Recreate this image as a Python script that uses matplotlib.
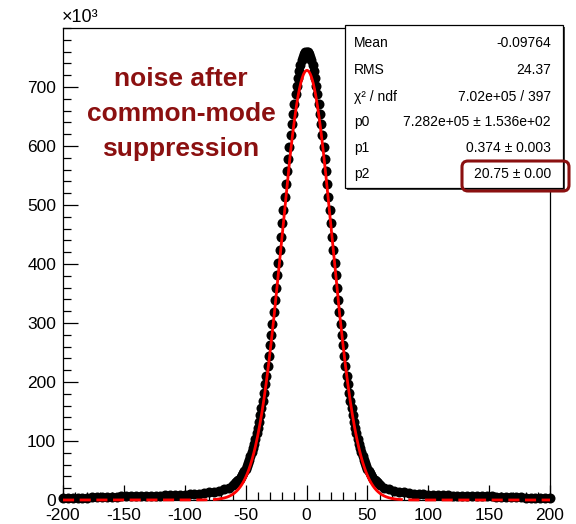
import numpy as np
import matplotlib.pyplot as plt
from matplotlib.patches import Rectangle, FancyBboxPatch

plt.rcParams['font.family'] = ['Liberation Sans', 'DejaVu Sans']
plt.rcParams['axes.unicode_minus'] = False

# histogram contents (thousands of entries), bin width 1 in the core
core_x = np.arange(-60, 61)
core_counts = [26, 28, 30, 32, 34, 36, 39, 42, 45, 49,
               53, 58, 63, 68, 74, 81, 88, 95, 104, 113,
               122, 133, 144, 156, 168, 182, 196, 211, 227, 244,
               262, 280, 299, 318, 339, 359, 381, 402, 424, 446,
               469, 491, 513, 535, 557, 578, 598, 618, 637, 655,
               672, 688, 702, 715, 727, 737, 745, 751, 756, 759,
               760,
               759, 756, 751, 745, 737, 727, 715, 702, 688, 672,
               655, 637, 618, 598, 578, 557, 535, 513, 491, 469,
               446, 424, 402, 381, 359, 339, 318, 299, 280, 262,
               244, 227, 211, 196, 182, 168, 156, 144, 133, 122,
               113, 104, 95, 88, 81, 74, 68, 63, 58, 53,
               49, 45, 42, 39, 36, 34, 32, 30, 28, 26]

# tails, every 4th bin
left_x = np.arange(-200, -63, 4)
left_counts = [4, 4, 4, 4, 4, 4, 5, 5, 5, 5, 5, 5, 6, 6, 6, 6, 6, 7,
               7, 7, 7, 8, 8, 8, 9, 9, 10, 10, 11, 12, 13, 14, 16, 18, 21]
right_x = np.arange(64, 201, 4)
right_counts = [21, 18, 16, 14, 13, 12, 11, 10, 10, 9, 9, 8, 8, 8, 7, 7, 7, 7,
                6, 6, 6, 6, 6, 5, 5, 5, 5, 5, 5, 4, 4, 4, 4, 4, 4]

# gaussian fit results (stats box)
p0, p1, p2 = 7.282e5, 0.374, 20.75
fit_lo, fit_hi = -70, 70

stats_names = ['Mean', 'RMS', 'χ² / ndf', 'p0', 'p1', 'p2']
stats_vals = ['-0.09764', '24.37', '7.02e+05 / 397',
              '7.282e+05 ± 1.536e+02', '0.374 ± 0.003', '20.75 ± 0.00']

dark_red = '#8b1010'

fig = plt.figure(figsize=(5.76, 5.24), dpi=100)
ax = fig.add_axes([63 / 576, 24 / 524, 487 / 576, 472 / 524])

for xs, ys in [(left_x, left_counts), (core_x, core_counts), (right_x, right_counts)]:
    ax.plot(xs, ys, 'o', color='black', ms=7.2, mew=0, clip_on=False, zorder=2)

def gaus(x):
    return p0 * np.exp(-0.5 * ((x - p1) / p2) ** 2) / 1000.0

xf = np.linspace(fit_lo, fit_hi, 400)
ax.plot(xf, gaus(xf), color='red', lw=2, zorder=3)
for a, b in [(-200, fit_lo), (fit_hi, 200)]:
    xd = np.linspace(a, b, 200)
    ax.plot(xd, gaus(xd), color='red', lw=2, dashes=(4, 2), zorder=3, clip_on=False)

ax.set_xlim(-200, 200)
ax.set_ylim(0, 800)
ax.set_xticks(np.arange(-200, 201, 50))
ax.set_xticks(np.arange(-200, 201, 10), minor=True)
ax.set_yticks(np.arange(0, 701, 100))
ax.set_yticks(np.arange(0, 801, 20), minor=True)
ax.tick_params(which='both', direction='in', top=False, right=False, labelsize=12.5)
ax.tick_params(which='major', length=11, width=0.9)
ax.tick_params(which='minor', length=5.5, width=0.9)
ax.tick_params(axis='x', pad=6)
ax.tick_params(axis='y', pad=5)
for s in ax.spines.values():
    s.set_linewidth(0.9)

fig.text(62 / 576, 1 - 26 / 524, '×10³', fontsize=13, ha='left', va='bottom')

ax.text(-103, 654, 'noise after\ncommon-mode\nsuppression', color=dark_red,
        fontsize=19, fontweight='bold', ha='center', va='center', linespacing=1.58)

# stats box (pixel positions converted to inches)
T = fig.dpi_scale_trans
def px(x, y):
    return x / 100.0, (524 - y) / 100.0

bx0, by0 = px(345, 188)
bx1, by1 = px(563, 25)
fig.add_artist(Rectangle((bx0 + 0.02, by0 - 0.02), bx1 - bx0, by1 - by0, transform=T,
                         facecolor='#444444', edgecolor='none', zorder=5))
fig.add_artist(Rectangle((bx0, by0), bx1 - bx0, by1 - by0, transform=T,
                         facecolor='white', edgecolor='black', lw=0.9, zorder=6))
rows_y = [43, 70, 97, 122, 148, 174]
for name, val, yy in zip(stats_names, stats_vals, rows_y):
    lx, ly = px(354, yy)
    rx, _ = px(551, yy)
    fig.text(lx, ly, name, transform=T, fontsize=10, ha='left', va='center', zorder=7)
    fig.text(rx, ly, val, transform=T, fontsize=10, ha='right', va='center', zorder=7)

hx0, hy0 = px(462, 191)
hx1, hy1 = px(569, 161)
fig.add_artist(FancyBboxPatch((hx0, hy0), hx1 - hx0, hy1 - hy0, transform=T,
                              boxstyle='round,pad=0,rounding_size=0.06',
                              facecolor='none', edgecolor=dark_red, lw=2.2, zorder=8))

fig.savefig('out.png', dpi=100)
